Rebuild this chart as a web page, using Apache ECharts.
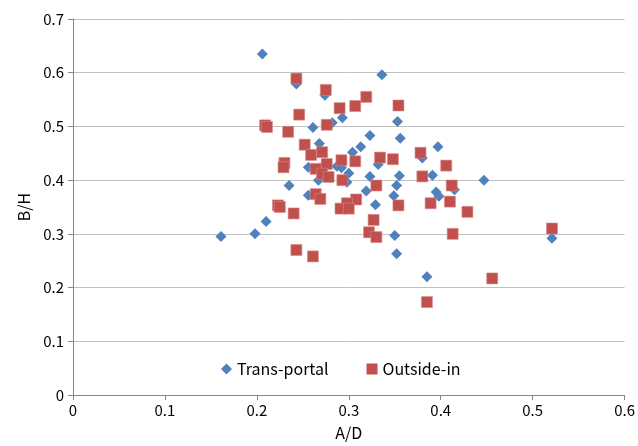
<!DOCTYPE html>
<html><head><meta charset="utf-8">
<script src="https://cdn.jsdelivr.net/npm/echarts@6/dist/echarts.min.js"></script>
<style>html,body{margin:0;padding:0;background:#fff}#c{width:638px;height:446px}</style>
</head><body><div id="c"></div>
<script>
const xTicks = [0, 0.1, 0.2, 0.3, 0.4, 0.5, 0.6];
const yTicks = [0, 0.1, 0.2, 0.3, 0.4, 0.5, 0.6, 0.7];
const seriesNames = ['Trans-portal', 'Outside-in'];
const transPortal = [
 [0.206,0.635],[0.243,0.579],[0.336,0.596],[0.274,0.558],[0.293,0.516],[0.353,0.509],
 [0.282,0.507],[0.261,0.498],[0.356,0.478],[0.323,0.483],[0.313,0.462],[0.397,0.462],
 [0.268,0.468],[0.304,0.452],[0.380,0.441],[0.332,0.429],[0.256,0.424],[0.273,0.427],
 [0.287,0.426],[0.292,0.423],[0.300,0.413],[0.267,0.400],[0.298,0.396],[0.323,0.407],
 [0.355,0.408],[0.391,0.409],[0.447,0.400],[0.352,0.390],[0.415,0.382],[0.319,0.380],
 [0.349,0.371],[0.395,0.378],[0.398,0.370],[0.235,0.390],[0.256,0.372],[0.329,0.354],
 [0.210,0.323],[0.198,0.300],[0.161,0.295],[0.350,0.297],[0.352,0.263],[0.385,0.220],
 [0.521,0.292]
];
const outsideIn = [
 [0.243,0.589],[0.246,0.522],[0.209,0.502],[0.211,0.499],[0.234,0.490],[0.252,0.466],
 [0.259,0.447],[0.230,0.432],[0.229,0.424],[0.223,0.353],[0.225,0.350],[0.240,0.338],
 [0.243,0.270],[0.261,0.258],[0.275,0.568],[0.319,0.555],[0.354,0.539],[0.307,0.538],
 [0.290,0.534],[0.276,0.503],[0.271,0.452],[0.378,0.451],[0.334,0.442],[0.348,0.439],
 [0.292,0.437],[0.307,0.435],[0.276,0.430],[0.264,0.421],[0.271,0.412],[0.278,0.406],
 [0.293,0.400],[0.380,0.407],[0.406,0.427],[0.330,0.390],[0.412,0.390],[0.410,0.360],
 [0.264,0.374],[0.269,0.365],[0.308,0.364],[0.298,0.357],[0.291,0.347],[0.300,0.347],
 [0.354,0.353],[0.389,0.357],[0.429,0.341],[0.327,0.326],[0.322,0.303],[0.330,0.294],
 [0.413,0.300],[0.385,0.173],[0.521,0.310],[0.456,0.217]
];
const FONT = '"Noto Sans CJK KR", "Noto Sans", sans-serif';
const chart = echarts.init(document.getElementById('c'), null, {renderer:'canvas'});
chart.setOption({
  animation:false,
  backgroundColor:'#fff',
  grid:{left:73, right:12, top:19, bottom:50.5, containLabel:false},
  legend:{
    top:356, left:216, itemGap:38, itemWidth:11, itemHeight:11,
    itemStyle:{borderWidth:0},
    textStyle:{fontFamily:FONT, fontSize:16, color:'#000'},
    data:[{name:seriesNames[0], icon:'diamond'},{name:seriesNames[1], icon:'rect'}]
  },
  xAxis:{
    type:'value', min:xTicks[0], max:xTicks[xTicks.length-1], interval:0.1,
    name:'A/D', nameLocation:'middle', nameGap:30,
    nameTextStyle:{fontFamily:FONT, fontSize:16, color:'#000'},
    axisLine:{show:true, lineStyle:{color:'#868686'}},
    axisTick:{show:true, inside:false, length:5, lineStyle:{color:'#868686'}},
    axisLabel:{fontFamily:FONT, fontSize:15, color:'#000', margin:8, formatter:v=>String(+v.toFixed(1))},
    splitLine:{show:false}
  },
  yAxis:{
    type:'value', min:yTicks[0], max:yTicks[yTicks.length-1], interval:0.1,
    name:'B/H', nameLocation:'middle', nameGap:38, nameRotate:90,
    nameTextStyle:{fontFamily:FONT, fontSize:16, color:'#000'},
    axisLine:{show:true, lineStyle:{color:'#868686'}},
    axisTick:{show:true, inside:false, length:5, lineStyle:{color:'#868686'}},
    axisLabel:{fontFamily:FONT, fontSize:15, color:'#000', margin:9, formatter:v=>String(+v.toFixed(1))},
    splitLine:{show:true, lineStyle:{color:'#c0c0c0', width:1}}
  },
  series:[
    {name:seriesNames[0], type:'scatter', symbol:'diamond', symbolSize:11,
     itemStyle:{color:'#4F81BD', opacity:1}, data:transPortal, z:2},
    {name:seriesNames[1], type:'scatter', symbol:'rect', symbolSize:11,
     itemStyle:{color:'#C0504D', borderColor:'#d88a88', borderWidth:0.6, opacity:1}, data:outsideIn, z:3}
  ]
});
</script></body></html>
